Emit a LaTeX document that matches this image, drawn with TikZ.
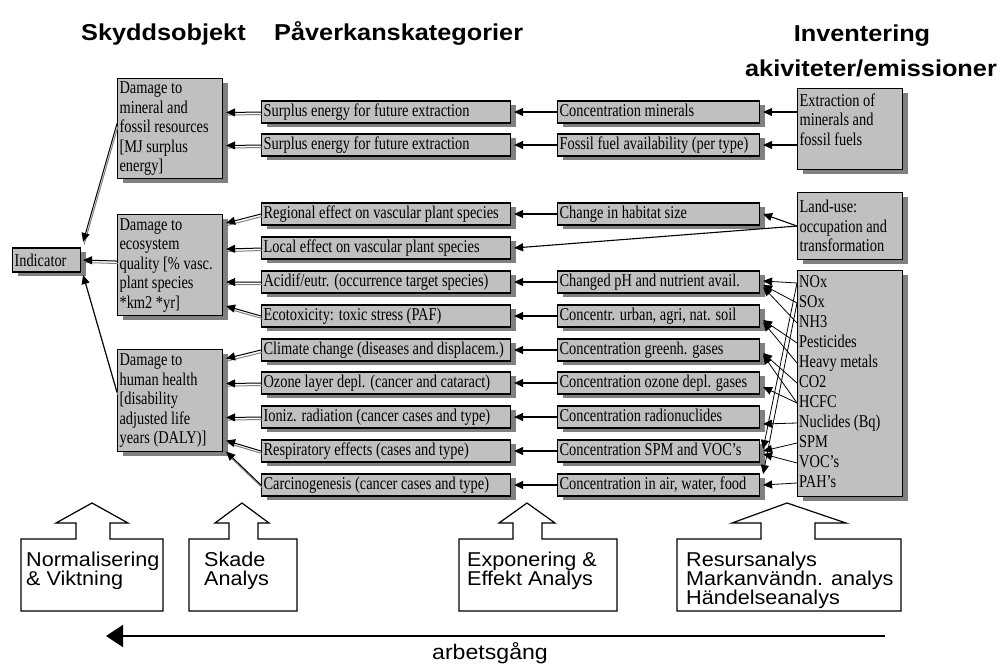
\documentclass[tikz,border=0pt]{standalone}
\usepackage{fontspec}
\setmainfont{Liberation Serif}[FakeStretch=0.8]
\newfontfamily\hdsans{Liberation Sans}[FakeStretch=1.1]
\newfontfamily\ntsans{Liberation Sans}[FakeStretch=1.08]
\usetikzlibrary{arrows.meta,shadows,calc}

\definecolor{boxgray}{RGB}{192,192,192}
\definecolor{shadegray}{RGB}{128,128,128}

\newcommand\bxfont{\fontsize{18pt}{19.5pt}\selectfont}
\newcommand\hdfont{\hdsans\bfseries\fontsize{23pt}{26pt}\selectfont}
\newcommand\ntfont{\ntsans\fontsize{20pt}{20pt}\selectfont}
\newcommand\flfont{\hdsans\fontsize{21pt}{24pt}\selectfont}

\begin{document}
\begin{tikzpicture}[x=1pt,y=-1pt,
  gbox/.style={draw, line width=1.1pt, fill=boxgray,
    drop shadow={shadow xshift=5pt,shadow yshift=-4pt,fill=shadegray,opacity=1},
    inner xsep=2pt, inner ysep=1pt, font=\bxfont, align=flush left},
  rowbox/.style={gbox, anchor=west, minimum height=22pt, text height=12pt, text depth=4pt},
  effbox/.style={rowbox, text width=245pt},
  fatebox/.style={rowbox, text width=198pt},
  bigbox/.style={gbox, anchor=north west, text width=101pt},
  item/.style={anchor=west, inner xsep=2pt, inner ysep=0pt, font=\bxfont, text height=12pt, text depth=4pt},
  tip/.style={-{Triangle[length=9pt,width=8pt]}},
  arr/.style={line width=1.1pt, tip},
  earr/.style={line width=0.8pt, tip},
  darr/.style={line width=1pt, tip,
    preaction={draw=shadegray, line width=1pt, -, transform canvas={shift={(1pt,-2.5pt)}}}},
  callout/.style={draw, line width=1.2pt, fill=white, line join=miter},
  ntxt/.style={anchor=base west, inner sep=0pt, font=\ntfont},
  head/.style={inner sep=0pt, font=\hdfont},
  flow/.style={line width=1.8pt, -{Triangle[length=17pt,width=22pt]}}
]
\useasboundingbox (0,0) rectangle (1003,664);

% column headings
\node[head, anchor=base west] (h1) at (81,40) {Skyddsobjekt};
\node[head, anchor=base west] (h2) at (274,40) {Påverkanskategorier};
\node[head, anchor=base] (h3) at (862,41) {Inventering};
\node[head, anchor=base] (h4) at (871,76) {akiviteter/emissioner};

% indicator and damage categories
\node[gbox, anchor=west, text width=64pt, minimum height=24pt] (ind) at (12,260) {Indicator};
\node[bigbox, minimum height=100pt] (dmin) at (117,78)
  {Damage to\\mineral and\\fossil resources\\{[}MJ surplus\\energy]};
\node[bigbox, minimum height=101pt] (deco) at (117,214)
  {Damage to\\ecosystem\\quality {[}\% vasc.\\plant species\\{*}km2 *yr]};
\node[bigbox, minimum height=102pt] (dhum) at (117,349)
  {Damage to\\human health\\{[}disability\\adjusted life\\years (DALY)]};

% effect categories
\node[effbox] (s1)    at (261,112) {\mbox{Surplus energy for future extraction}};
\node[effbox] (s2)    at (261,145) {\mbox{Surplus energy for future extraction}};
\node[effbox] (reg)   at (261,214) {\mbox{Regional effect on vascular plant species}};
\node[effbox] (loc)   at (261,248) {\mbox{Local effect on vascular plant species}};
\node[effbox] (acid)  at (261,282) {\mbox{Acidif/eutr. (occurrence target species)}};
\node[effbox] (etox)  at (261,316) {\mbox{Ecotoxicity: toxic stress (PAF)}};
\node[effbox] (clim)  at (261,350) {\mbox{Climate change (diseases and displacem.)}};
\node[effbox] (ozl)   at (261,383) {\mbox{Ozone layer depl. (cancer and cataract)}};
\node[effbox] (ioniz) at (261,417) {\mbox{Ioniz. radiation (cancer cases and type)}};
\node[effbox] (resp)  at (261,451) {\mbox{Respiratory effects (cases and type)}};
\node[effbox] (carc)  at (261,485) {\mbox{Carcinogenesis (cancer cases and type)}};

% fate and exposure
\node[fatebox] (cmin)  at (557,112) {\mbox{Concentration minerals}};
\node[fatebox] (ffa)   at (557,145) {\mbox{Fossil fuel availability (per type)}};
\node[fatebox] (hab)   at (557,214) {\mbox{Change in habitat size}};
\node[fatebox] (cph)   at (557,282) {\mbox{Changed pH and nutrient avail.}};
\node[fatebox] (csoil) at (557,316) {\mbox{Concentr. urban, agri, nat. soil}};
\node[fatebox] (cghg)  at (557,350) {\mbox{Concentration greenh. gases}};
\node[fatebox] (cozo)  at (557,383) {\mbox{Concentration ozone depl. gases}};
\node[fatebox] (crad)  at (557,417) {\mbox{Concentration radionuclides}};
\node[fatebox] (cspm)  at (557,451) {\mbox{Concentration SPM and VOC's}};
\node[fatebox] (cfood) at (557,485) {\mbox{Concentration in air, water, food}};

% inventory
\node[bigbox, minimum height=81pt] (ext) at (797,88)
  {Extraction of\\minerals and\\fossil fuels\\\mbox{}};
\node[bigbox, minimum height=67pt] (land) at (797,192)
  {Land-use:\\occupation and\\transformation};
\node[gbox, anchor=north west, minimum width=105pt, minimum height=226pt] (emis) at (797,270) {};
\node[item] (nox)  at (797,283) {NOx};
\node[item] (sox)  at (797,303) {SOx};
\node[item] (nh3)  at (797,323) {NH3};
\node[item] (pest) at (797,343) {Pesticides};
\node[item] (hmet) at (797,363) {Heavy metals};
\node[item] (co2)  at (797,383) {CO2};
\node[item] (hcfc) at (797,403) {HCFC};
\node[item] (nucl) at (797,423) {Nuclides (Bq)};
\node[item] (spm)  at (797,443) {SPM};
\node[item] (voc)  at (797,463) {VOC's};
\node[item] (pah)  at (797,483) {PAH's};

% inventory -> fate
\draw[arr] (ext.west |- cmin.east) -- ([xshift=3pt]cmin.east);
\draw[arr] (ext.west |- ffa.east) -- ([xshift=3pt]ffa.east);
\draw[arr] (land.west) -- ([xshift=3pt]hab.east);
\draw[arr] (land.west) -- ([xshift=3pt]loc.east);

% emissions -> fate
\draw[earr] (nox.west)  -- ($(cph.east)+(3,-1)$);
\draw[earr] (sox.west)  -- ($(cph.east)+(3,3)$);
\draw[earr] (nh3.west)  -- ($(cph.east)+(3,5)$);
\draw[earr] (pest.west) -- ($(csoil.east)+(3,4)$);
\draw[earr] (hmet.west) -- ($(csoil.east)+(3,6)$);
\draw[earr] (co2.west)  -- ($(cghg.east)+(3,3)$);
\draw[earr] (hcfc.west) -- ($(cghg.east)+(3,5)$);
\draw[earr] (hcfc.west) -- ($(cozo.east)+(3,4)$);
\draw[earr] (nucl.west) -- ($(crad.east)+(3,7)$);
\draw[earr] (nox.west)  -- ($(cspm.east)+(3,-2)$);
\draw[earr] (spm.west)  -- ($(cspm.east)+(3,0)$);
\draw[earr] (voc.west)  -- ($(cspm.east)+(3,3)$);
\draw[earr] (sox.west)  -- ($(cfood.east)+(3,-11)$);
\draw[earr] (pah.west)  -- ($(cfood.east)+(3,0)$);

% fate -> effect
\draw[arr] (cmin.west)  -- ([xshift=3pt]s1.east);
\draw[arr] (ffa.west)   -- ([xshift=3pt]s2.east);
\draw[arr] (hab.west)   -- ([xshift=3pt]reg.east);
\draw[arr] (cph.west)   -- ([xshift=3pt]acid.east);
\draw[arr] (csoil.west) -- ([xshift=3pt]etox.east);
\draw[arr] (cghg.west)  -- ([xshift=3pt]clim.east);
\draw[arr] (cozo.west)  -- ([xshift=3pt]ozl.east);
\draw[arr] (crad.west)  -- ([xshift=3pt]ioniz.east);
\draw[arr] (cspm.west)  -- ([xshift=3pt]resp.east);
\draw[arr] (cfood.west) -- ([xshift=3pt]carc.east);

% effect -> damage
\draw[darr] (s1.west)    -- ($(dmin.east)+(3,-16)$);
\draw[darr] (s2.west)    -- ($(dmin.east)+(3,17)$);
\draw[darr] (reg.west)   -- ($(deco.east)+(3,-42)$);
\draw[darr] (loc.west)   -- ($(deco.east)+(3,-16)$);
\draw[darr] (acid.west)  -- ($(deco.east)+(3,17)$);
\draw[darr] (etox.west)  -- ($(deco.east)+(3,41)$);
\draw[darr] (clim.west)  -- ($(dhum.east)+(3,-42)$);
\draw[darr] (ozl.west)   -- ($(dhum.east)+(3,-17)$);
\draw[darr] (ioniz.west) -- ($(dhum.east)+(3,17)$);
\draw[darr] (resp.west)  -- ($(dhum.east)+(3,40)$);
\draw[darr] (carc.west)  -- ($(dhum.east)+(3,51)$);

% damage -> indicator
\draw[darr] ($(dmin.west)+(0,-5)$) -- ($(ind.east)+(2,-18)$);
\draw[darr] ($(deco.west)+(0,-4)$) -- ($(ind.east)+(2,0)$);
\draw[darr] ($(dhum.west)+(0,-8)$) -- ($(ind.east)+(2,15)$);

% analysis steps
\draw[callout] (21,539) -- (76,539) -- (76,523) -- (56,523) -- (92,503) -- (128,523)
  -- (110,523) -- (110,539) -- (163,539) -- (163,611) -- (21,611) -- cycle;
\draw[callout] (189,539) -- (229,539) -- (229,523) -- (215,523) -- (242,503) -- (269,523)
  -- (258,523) -- (258,539) -- (297,539) -- (297,611) -- (189,611) -- cycle;
\draw[callout] (459,539) -- (513,539) -- (513,523) -- (499,523) -- (527,503) -- (555,523)
  -- (542,523) -- (542,539) -- (617,539) -- (617,611) -- (459,611) -- cycle;
\draw[callout] (677,539) -- (761,539) -- (761,523) -- (732,523) -- (787,503) -- (846,523)
  -- (815,523) -- (815,539) -- (901,539) -- (901,611) -- (677,611) -- cycle;

\node[ntxt] (n1a) at (26,566)  {Normalisering};
\node[ntxt] (n1b) at (26,585)  {\& Viktning};
\node[ntxt] (n2a) at (204,566) {Skade};
\node[ntxt] (n2b) at (204,585) {Analys};
\node[ntxt] (n3a) at (467,566) {Exponering \&};
\node[ntxt] (n3b) at (467,585) {Effekt Analys};
\node[ntxt] (n4a) at (686,566) {Resursanalys};
\node[ntxt] (n4b) at (686,585) {Markanvändn. analys};
\node[ntxt] (n4c) at (686,604) {Händelseanalys};

% direction of work
\coordinate (flowR) at (885,636);
\coordinate (flowL) at (106,636);
\draw[flow] (flowR) -- (flowL);
\node[anchor=base, inner sep=0pt, font=\flfont] (flowlbl) at (490,659) {arbetsgång};
\end{tikzpicture}
\end{document}
